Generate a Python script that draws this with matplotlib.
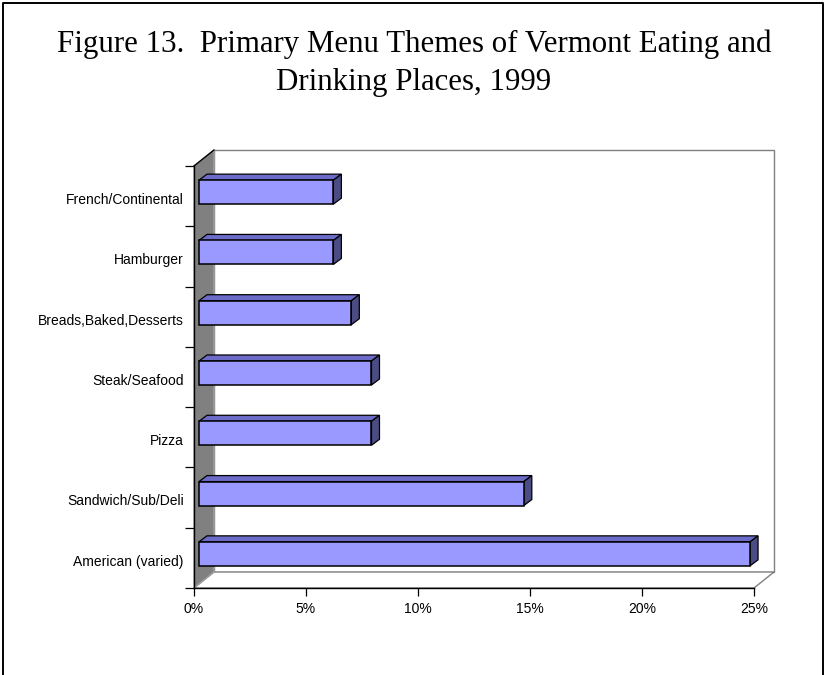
import matplotlib.pyplot as plt
from matplotlib.patches import Polygon
from matplotlib.lines import Line2D

# menu themes, bottom to top as they sit on the chart
categories = ['American (varied)', 'Sandwich/Sub/Deli', 'Pizza', 'Steak/Seafood',
              'Breads,Baked,Desserts', 'Hamburger', 'French/Continental']
shares = [24.6, 14.5, 7.7, 7.7, 6.8, 6.0, 6.0]
x_ticks = [0, 5, 10, 15, 20, 25]
x_labels = ['0%', '5%', '10%', '15%', '20%', '25%']

W, H = 828, 675
fig = plt.figure(figsize=(W / 100, H / 100), dpi=100)
fig.patch.set_facecolor('white')

# front plane of the 3-D box, in pixels
left, right, top, bottom = 194, 754, 166, 588
ax = fig.add_axes([left / W, (H - bottom) / H, (right - left) / W, (bottom - top) / H])
ax.set_xlim(0, 25)
ax.set_ylim(0, len(categories))
ax.patch.set_alpha(0)

px_x = (right - left) / 25.0
px_y = (bottom - top) / len(categories)


def off(dx, dy):
    # pixel offset -> data offset (dy positive = up)
    return dx / px_x, dy / px_y


# depth of the box
ddx, ddy = off(20, 16)
n = len(categories)

wall = Polygon([(ddx, ddy), (25 + ddx, ddy), (25 + ddx, n + ddy), (ddx, n + ddy)],
               closed=True, facecolor='white', edgecolor='#808080', lw=1.0,
               clip_on=False, zorder=0)
floor = Polygon([(0, 0), (25, 0), (25 + ddx, ddy), (ddx, ddy)], closed=True,
                facecolor='white', edgecolor='#808080', lw=1.0, clip_on=False, zorder=0.5)
side = Polygon([(0, 0), (0, n), (ddx, n + ddy), (ddx, ddy)], closed=True,
               facecolor='#808080', edgecolor='#a0a0a0', lw=1.0, clip_on=False, zorder=0.6)
for p in (wall, floor, side):
    ax.add_patch(p)
ax.add_line(Line2D([0, ddx], [n, n + ddy], color='black', lw=1.0, clip_on=False, zorder=0.7))

# bars: front face sits a little into the box
fx, fy = off(5, 4)
bx, by = off(8, 6)
half = 12 / px_y
front_c, top_c, side_c = '#9999FF', '#6C6CC8', '#4C4C84'
for i, v in enumerate(shares):
    yc = i + 0.5 + fy
    x0, x1 = fx, fx + v
    y0, y1 = yc - half, yc + half
    ax.add_patch(Polygon([(x0, y1), (x1, y1), (x1 + bx, y1 + by), (x0 + bx, y1 + by)],
                         closed=True, facecolor=top_c, edgecolor='black', lw=0.9,
                         clip_on=False, zorder=2))
    ax.add_patch(Polygon([(x1, y0), (x1 + bx, y0 + by), (x1 + bx, y1 + by), (x1, y1)],
                         closed=True, facecolor=side_c, edgecolor='black', lw=0.9,
                         clip_on=False, zorder=2))
    ax.add_patch(Polygon([(x0, y0), (x1, y0), (x1, y1), (x0, y1)],
                         closed=True, facecolor=front_c, edgecolor='black', lw=1.1,
                         clip_on=False, zorder=3))

for s in ('top', 'right'):
    ax.spines[s].set_visible(False)
for s in ('left', 'bottom'):
    ax.spines[s].set_color('black')
    ax.spines[s].set_linewidth(1.0)
    ax.spines[s].set_zorder(5)

ax.set_xticks(x_ticks)
ax.set_xticklabels(x_labels, fontsize=10, family='Liberation Sans')
ax.tick_params(axis='x', direction='out', length=5.8, width=0.9, pad=4, colors='black')

ax.set_yticks(range(n + 1))
ax.set_yticklabels([])
# category labels sit a touch below the band centre
ax.set_yticks([i + 0.46 for i in range(n)], minor=True)
ax.set_yticklabels(categories, minor=True, fontsize=10, family='Liberation Sans')
ax.tick_params(axis='y', which='major', direction='out', length=6.5, width=0.9)
ax.tick_params(axis='y', which='minor', length=0, pad=7.5)

# title in two lines
tfont = dict(family='Liberation Serif', fontsize=22.2, ha='center', va='baseline')
fig.text(414 / W, 1 - 52 / H, 'Figure 13.  Primary Menu Themes of Vermont Eating and', **tfont)
fig.text(414 / W, 1 - 90 / H, 'Drinking Places, 1999', **tfont)

# outer frame, open at the bottom
fig.add_artist(Line2D([3 / W, 3 / W, 823 / W, 823 / W], [0, 1 - 3 / H, 1 - 3 / H, 0],
                      transform=fig.transFigure, color='black', lw=1.4))

fig.savefig('out.png', dpi=100)
